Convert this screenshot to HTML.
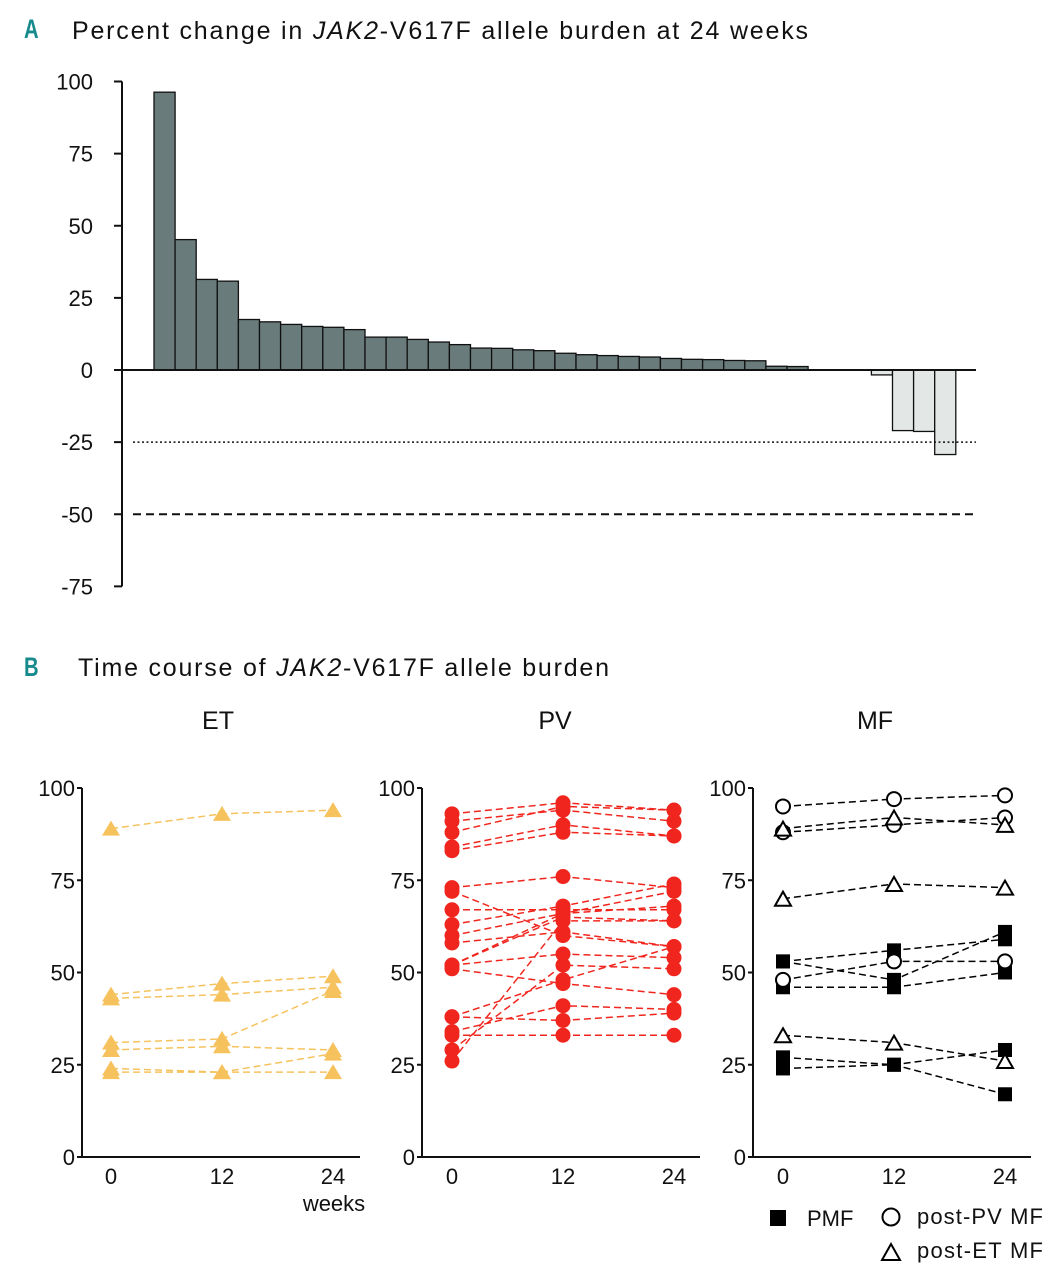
<!DOCTYPE html>
<html><head><meta charset="utf-8"><style>
body{margin:0;background:#fff}
svg text{font-family:"Liberation Sans",Arial,sans-serif;fill:#111}
</style></head><body>
<svg id="fig" width="1057" height="1280" viewBox="0 0 1057 1280" xmlns="http://www.w3.org/2000/svg">
<text x="24" y="38" font-size="27" font-weight="bold" style="fill:#178a8c" transform="translate(24,0) scale(0.75,1) translate(-24,0)">A</text>
<text x="72" y="39" font-size="25" textLength="736" lengthAdjust="spacing">Percent change in <tspan font-style="italic">JAK2</tspan>-V617F allele burden at 24 weeks</text>
<g id="bars"></g>
<text x="24" y="676" font-size="27" font-weight="bold" style="fill:#178a8c" transform="translate(24,0) scale(0.75,1) translate(-24,0)">B</text>
<text x="78" y="676" font-size="25" textLength="531" lengthAdjust="spacing">Time course of <tspan font-style="italic">JAK2</tspan>-V617F allele burden</text>
<g id="panels"></g>
<g>
<rect x="770" y="1210" width="16" height="16" fill="#000"/>
<text x="807" y="1226" font-size="22">PMF</text>
<circle cx="891" cy="1217" r="8.5" fill="#fff" stroke="#000" stroke-width="2"/>
<text x="917" y="1224" font-size="22" textLength="126" lengthAdjust="spacing">post-PV MF</text>
<path d="M882,1260 L891,1244 L900,1260 Z" fill="#fff" stroke="#000" stroke-width="2"/>
<text x="917" y="1258" font-size="22" textLength="126" lengthAdjust="spacing">post-ET MF</text>
</g>
</svg>
<script>
// Panel A data
const barValues=[96.3,45.2,31.4,30.8,17.5,16.7,15.8,15.1,14.8,14.0,11.4,11.4,10.6,9.7,8.8,7.6,7.5,7.0,6.7,5.8,5.3,5.0,4.7,4.5,4.0,3.7,3.6,3.3,3.2,1.3,1.2,0,0,0,-1.7,-21.0,-21.3,-29.3];
const barTicks=[100,75,50,25,0,-25,-50,-75];
const refLines=[-25,-50];
// Panel B data
const weeks=[0,12,24];
const bTicks=[100,75,50,25,0];
const etSeries=[[89,93,94],[44,47,49],[43,44,46],[31,32,45],[29,30,29],[24,23,28],[23,23,23]];
const pvSeries=[[93,96,94],[91,94,91],[88,95,94],[84,90,87],[83,88,87],[73,76,73],[72,60,57],[67,67,67],[63,68,74],[60,66,72],[58,61,57],[52,66,68],[52,65,64],[52,55,54],[51,47,44],[38,48,57],[38,37,39],[34,41,40],[33,33,33],[29,52,51],[26,64,64]];
const mfCircle=[[95,97,98],[88,90,92],[48,53,53]];
const mfTriangle=[[89,92,90],[70,74,73],[33,31,26]];
const mfSquare=[[53,56,59],[53,48,61],[46,46,50],[27,25,29],[24,25,17]];

const NS="http://www.w3.org/2000/svg";
function mk(tag,attrs,parent){const e=document.createElementNS(NS,tag);for(const k in attrs)e.setAttribute(k,attrs[k]);parent.appendChild(e);return e;}

// Panel A
const g=document.getElementById('bars');
const yA=v=>370-v*2.885;
const x0=154,bw=21.1;
const xA=i=>x0+i*bw;
barValues.forEach((v,i)=>{
  const y=Math.min(yA(v),yA(0)),h=Math.abs(yA(v)-yA(0));
  if(h<0.5)return;
  const r=mk('rect',{x:xA(i),y:y,width:bw,height:h,fill:v>=0?'#6a7b7b':'#e3e7e6',stroke:'#111','stroke-width':1.3},g);
  
  
});
const ax=mk('line',{x1:122,y1:yA(100),x2:122,y2:yA(-75),stroke:'#111','stroke-width':2},g);


barTicks.forEach(t=>{
  const l=mk('line',{x1:114,x2:122,y1:yA(t),y2:yA(t),stroke:'#111','stroke-width':2},g);
  
  
  const tx=mk('text',{x:93,y:yA(t)+8,'font-size':22,'text-anchor':'end'},g);
  tx.textContent=t;
  
  
});
const zl=mk('line',{x1:122,x2:976,y1:yA(0),y2:yA(0),stroke:'#111','stroke-width':2},g);


refLines.forEach((v,i)=>{
  const l=mk('line',{x1:133,x2:976,y1:yA(v),y2:yA(v),stroke:'#111','stroke-width':i?2:1.6,'stroke-dasharray':i?'8,5':'2,2.5'},g);
  
  
});

// Panel B
const P=document.getElementById('panels');
const yB=v=>1157-v*3.69;
function panel(name,axX,xs,title,titleX){
  const pg=mk('g',{},P);
  
  
  const t=mk('text',{x:titleX,y:729,'font-size':25,'text-anchor':'middle'},pg);t.textContent=title;
  
  
  const ya=mk('line',{x1:axX,x2:axX,y1:yB(100),y2:yB(0)+1,stroke:'#111','stroke-width':2},pg);
  
  
  const xa=mk('line',{x1:axX,x2:axX+278,y1:yB(0),y2:yB(0),stroke:'#111','stroke-width':2},pg);
  
  
  bTicks.forEach(v=>{
    const l=mk('line',{x1:axX-5,x2:axX,y1:yB(v),y2:yB(v),stroke:'#111','stroke-width':2},pg);
    
    
    const tx=mk('text',{x:axX-7,y:yB(v)+8,'font-size':22,'text-anchor':'end'},pg);tx.textContent=v;
    
    
  });
  weeks.forEach(w=>{
    const tx=mk('text',{x:xs(w),y:1184,'font-size':22,'text-anchor':'middle'},pg);tx.textContent=w;
    
    
  });
  return pg;
}
function drawSeries(pg,series,xs,color,shape,name){
  series.forEach((s,i)=>{
    const pts=s.map((v,j)=>xs(weeks[j])+','+yB(v)).join(' ');
    const pl=mk('polyline',{points:pts,fill:'none',stroke:color,'stroke-width':1.5,'stroke-dasharray':'7,4'},pg);
    
    
  });
  series.forEach((s,i)=>{
    s.forEach((v,j)=>{
      const cx=xs(weeks[j]),cy=yB(v);let m;
      if(shape==='tri-fill')m=mk('path',{d:`M${cx-9},${cy+7} L${cx},${cy-8} L${cx+9},${cy+7} Z`,fill:color},pg);
      else if(shape==='dot')m=mk('circle',{cx:cx,cy:cy,r:7.5,fill:color},pg);
      else if(shape==='circle')m=mk('circle',{cx:cx,cy:cy,r:7,fill:'#fff',stroke:'#000','stroke-width':2},pg);
      else if(shape==='tri')m=mk('path',{d:`M${cx-8},${cy+7} L${cx},${cy-7} L${cx+8},${cy+7} Z`,fill:'#fff',stroke:'#000','stroke-width':2},pg);
      else m=mk('rect',{x:cx-7,y:cy-7,width:14,height:14,fill:'#000'},pg);
      
      
    });
  });
}
const xET=w=>111+w*(222/24), xPV=w=>452+w*(222/24), xMF=w=>783+w*(222/24);
const pET=panel('et',82,xET,'ET',218);
drawSeries(pET,etSeries,xET,'#f6c25e','tri-fill','et');
const wk=mk('text',{x:334,y:1211,'font-size':22,'text-anchor':'middle'},pET);wk.textContent='weeks';


const pPV=panel('pv',422,xPV,'PV',555);
drawSeries(pPV,pvSeries,xPV,'#f0261e','dot','pv');
const pMF=panel('mf',753,xMF,'MF',875);
drawSeries(pMF,mfSquare,xMF,'#000','square','pmf');
drawSeries(pMF,mfCircle,xMF,'#000','circle','post-pv-mf');
drawSeries(pMF,mfTriangle,xMF,'#000','tri','post-et-mf');
</script>
</body></html>
